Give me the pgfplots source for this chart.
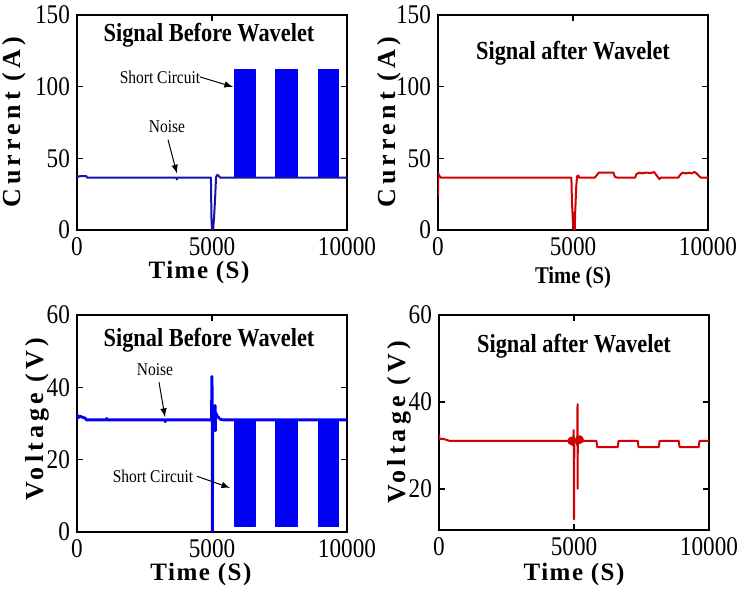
\documentclass[border=0pt]{standalone}
\usepackage{fontspec}
\setmainfont{Liberation Serif}
\newfontfamily\lspA[LetterSpace=16]{Liberation Serif}
\newfontfamily\lspB[LetterSpace=6]{Liberation Serif}
\usepackage{pgfplots}
\pgfplotsset{compat=1.18}
\definecolor{sigline}{RGB}{20,20,170}
\definecolor{sigfill}{RGB}{0,0,245}
\definecolor{sigred}{RGB}{210,0,0}
\newcommand{\nt}[1]{\scalebox{0.86}[1]{#1}}
\pgfplotsset{
  panel/.style={scale only axis,width=135pt,height=107.5pt,anchor=south west,
    xmin=0,xmax=10000,xtick={0,5000,10000},xticklabels={\nt{0},\nt{5000},\nt{10000}},
    scaled x ticks=false,scaled y ticks=false,
    axis line style={line width=0.9pt},tick style={line width=0.8pt,black},major tick length=3pt,
    tick label style={font=\fontsize{13.5}{13.5}\selectfont},
    /pgf/number format/assume math mode=true,
    every axis plot/.append style={line join=round},
    ylabel style={font=\lspA\bfseries\fontsize{13}{13}\selectfont,anchor=center},
    xlabel style={anchor=center}}
}
\tikzset{
  ttl/.style={font=\bfseries\fontsize{13}{13}\selectfont},
  ann/.style={font=\fontsize{9}{9}\selectfont},
  arr/.style={-latex,line width=0.5pt}
}
\begin{document}
\begin{tikzpicture}
\path[use as bounding box] (0,0) rectangle (376.5pt,298.5pt);

% current, before wavelet
\begin{axis}[panel,at={(38.5pt,183.5pt)},ymin=0,ymax=150,ytick={0,50,100,150},yticklabels={\nt{0},\nt{50},\nt{100},\nt{150}},
  ylabel={Current (A)},ylabel style={at={(axis description cs:-0.233,0.5)}},
  xlabel={Time (S)},xlabel style={at={(axis description cs:0.452,-0.2)},font=\lspB\bfseries\fontsize{12.5}{12.5}\selectfont}]
\addplot[sigfill,fill=sigfill,line width=0.6pt] coordinates {(5850,36.5) (5850,112) (6590,112) (6590,36.5) (5850,36.5)};
\addplot[sigfill,fill=sigfill,line width=0.6pt] coordinates {(7370,36.5) (7370,112) (8180,112) (8180,36.5) (7370,36.5)};
\addplot[sigfill,fill=sigfill,line width=0.6pt] coordinates {(8930,36.5) (8930,112) (9670,112) (9670,36.5) (8930,36.5)};
\addplot[sigline,line width=1pt] coordinates {(0,38.5) (20,37) (100,37.5) (350,37.5) (370,36.5) (3680,36.5) (3700,35.3) (3720,36.5) (4960,36.5) (4980,8) (5000,0) (5040,0) (5080,10) (5120,24) (5150,37) (5200,38.5) (5260,37.5) (5300,36.5) (10000,36.5)};
\node[ttl] at (axis description cs:0.489,0.907) {\nt{Signal Before Wavelet}};
\node[ann] at (axis cs:3333,72) {\nt{Noise}};
\draw[arr] (axis cs:3370,63) -- (axis cs:3700,39.5);
\node[ann] at (axis cs:3074,106.8) {\nt{Short Circuit}};
\draw[arr] (axis cs:4555,106.8) -- (axis cs:5778,99.8);
\end{axis}

% current, after wavelet
\begin{axis}[panel,at={(219pt,183.5pt)},ymin=0,ymax=150,ytick={0,50,100,150},yticklabels={\nt{0},\nt{50},\nt{100},\nt{150}},
  ylabel={Current (A)},ylabel style={at={(axis description cs:-0.18,0.5)}},
  xlabel={\nt{Time (S)}},xlabel style={at={(axis description cs:0.5,-0.222)},font=\bfseries\fontsize{12}{12}\selectfont}]
\addplot[sigred,line width=1pt] coordinates {(0,24) (5,40) (30,38.5) (80,37) (100,36.5) (4940,36.5) (4960,20) (4980,12) (5000,5) (5020,0) (5035,12) (5045,0) (5055,12) (5065,0) (5080,12) (5120,30) (5150,37.5) (5200,38) (5230,36.5) (5800,36.5) (5850,37.5) (5950,40) (6500,40) (6550,37) (6650,36.5) (7300,36.5) (7350,39) (7450,40) (7550,39.5) (7700,40) (7900,39.8) (8000,40.5) (8100,38) (8200,35.5) (8250,36.5) (8900,36.5) (8950,38) (9050,40) (9200,39.5) (9300,40) (9400,39.5) (9500,40.5) (9600,39) (9700,37) (9750,36.5) (10000,36.5)};
\node[ttl] at (axis description cs:0.5,0.823) {\nt{Signal after Wavelet}};
\end{axis}

% voltage, before wavelet
\begin{axis}[panel,at={(38.5pt,32.5pt)},height=108.5pt,ymin=0,ymax=60,ytick={0,20,40,60},yticklabels={\nt{0},\nt{20},\nt{40},\nt{60}},
  ylabel={Voltage (V)},ylabel style={at={(axis description cs:-0.145,0.52)}},
  xlabel={Time (S)},xlabel style={at={(axis description cs:0.459,-0.195)},font=\lspB\bfseries\fontsize{12.5}{12.5}\selectfont}]
\addplot[sigfill,fill=sigfill,line width=0.6pt] coordinates {(5850,31) (5850,1.5) (6590,1.5) (6590,31) (5850,31)};
\addplot[sigfill,fill=sigfill,line width=0.6pt] coordinates {(7370,31) (7370,1.5) (8180,1.5) (8180,31) (7370,31)};
\addplot[sigfill,fill=sigfill,line width=0.6pt] coordinates {(8930,31) (8930,1.5) (9670,1.5) (9670,31) (8930,31)};
\addplot[sigfill,line width=1.4pt] coordinates {(0,32.5) (30,31.5) (100,32) (300,31.5) (350,31) (1080,31) (1100,31.4) (1120,31) (3250,31) (3270,30.5) (3290,31) (4980,31) (4995,43) (5005,40) (5010,0) (5020,0) (5025,31) (5100,31) (5115,35) (5125,28) (5135,33) (5200,32) (5300,31.2) (5400,31) (10000,31)};
\node[ttl] at (axis description cs:0.489,0.885) {\nt{Signal Before Wavelet}};
\node[ann] at (axis cs:2889,45) {\nt{Noise}};
\draw[arr] (axis cs:3037,41.4) -- (axis cs:3259,31.8);
\node[ann] at (axis cs:2815,15.4) {\nt{Short Circuit}};
\draw[arr] (axis cs:4444,15.4) -- (axis cs:5667,12.2);
\end{axis}

% voltage, after wavelet
\begin{axis}[panel,at={(219.5pt,33.5pt)},ymin=10.5,ymax=60,ytick={20,40,60},yticklabels={\nt{20},\nt{40},\nt{60}},
  ylabel={Voltage (V)},ylabel style={at={(axis description cs:-0.148,0.5)}},
  xlabel={Time (S)},xlabel style={at={(axis description cs:0.5,-0.205)},font=\lspB\bfseries\fontsize{12.5}{12.5}\selectfont}]
\addplot[sigred,line width=1pt] coordinates {(0,32.5) (20,31.5) (150,31.5) (300,31.2) (400,31) (4900,31) (4930,31.5) (4950,30) (4970,31) (4990,33.5) (4995,13) (5005,13) (5010,31) (5100,31) (5120,30) (5130,39.5) (5135,20) (5140,31.5) (5160,32) (5200,31) (5830,31) (5860,29.6) (6620,29.6) (6650,31) (7360,31) (7390,29.6) (8140,29.6) (8170,31) (8880,31) (8910,29.6) (9620,29.6) (9650,31) (10000,31)};
\addplot[only marks,mark=*,sigred,mark size=2pt] coordinates {(4920,31) (5200,31.3)};
\node[ttl] at (axis description cs:0.5,0.853) {\nt{Signal after Wavelet}};
\end{axis}
\end{tikzpicture}
\end{document}
